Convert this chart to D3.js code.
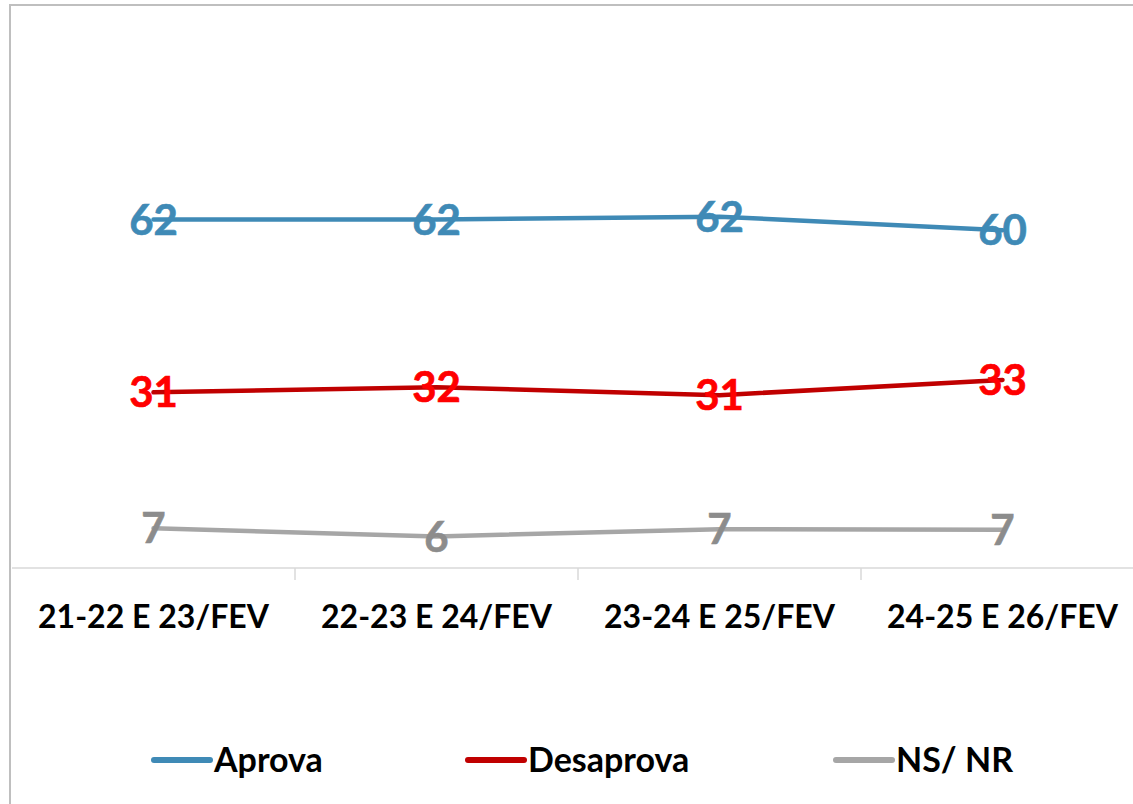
<!DOCTYPE html>
<html><head><meta charset="utf-8">
<script src="https://cdn.jsdelivr.net/npm/d3@7"></script>
<style>html,body{margin:0;padding:0;background:#fff;overflow:hidden}</style>
</head><body>
<svg id="c" width="1133" height="804"></svg>
<script>
const categories = ["21-22 E 23/FEV", "22-23 E 24/FEV", "23-24 E 25/FEV", "24-25 E 26/FEV"];
const aprova = [61.9, 61.9, 62.4, 60.0];
const desaprova = [31.2, 32.1, 30.7, 33.4];
const nsnr = [7.05, 5.6, 6.9, 6.8];
const seriesNames = ["Aprova", "Desaprova", "NS/ NR"];

const series = [
  {name: seriesNames[0], values: aprova, line: "#3F8AB6", label: "#3F8AB6"},
  {name: seriesNames[1], values: desaprova, line: "#C00000", label: "#FF0000"},
  {name: seriesNames[2], values: nsnr, line: "#A6A6A6", label: "#8C8C8C"}
];

const svg = d3.select("#c");
const font = "Lato, 'Open Sans', sans-serif";

// outer border
svg.append("rect").attr("x", 10).attr("y", 5).attr("width", 1300).attr("height", 1000)
  .attr("fill", "none").attr("stroke", "#BFBFBF").attr("stroke-width", 2);

const x = d3.scaleBand().domain(categories).range([12, 1144]).padding(0);
const y = d3.scaleLinear().domain([0, 100]).range([568, 5]);

// x axis
const xAxis = d3.axisBottom(x).tickSize(0).tickPadding(0);
const ax = svg.append("g").attr("transform", "translate(0,568)").call(xAxis);
ax.select(".domain").remove();
ax.append("line").attr("x1", 12).attr("x2", 1133).attr("y1", 0).attr("y2", 0)
  .attr("stroke", "#D9D9D9").attr("stroke-width", 1.5);
ax.selectAll(".tick text").attr("y", 60).attr("dy", 0)
  .attr("font-family", font).attr("font-weight", "bold").attr("font-size", 32).attr("fill", "#000");
// tick marks at band boundaries
const bounds = categories.slice(1).map(c => x(c));
ax.selectAll(".bt").data(bounds).enter().append("line")
  .attr("x1", d => d).attr("x2", d => d).attr("y1", 0).attr("y2", 12)
  .attr("stroke", "#D9D9D9").attr("stroke-width", 1.5);

const cx = c => x(c) + x.bandwidth() / 2;
const line = d3.line().x((d, i) => cx(categories[i])).y(d => y(d));

series.forEach(s => {
  svg.append("path").datum(s.values).attr("d", line)
    .attr("fill", "none").attr("stroke", s.line).attr("stroke-width", 4.5)
    .attr("stroke-linejoin", "round").attr("stroke-linecap", "round");
});
series.forEach(s => {
  svg.append("g").selectAll("text").data(s.values).enter().append("text")
    .attr("x", (d, i) => cx(categories[i]))
    .attr("y", d => y(d))
    .attr("dy", "0.36em")
    .attr("text-anchor", "middle")
    .attr("font-family", font).attr("font-weight", "bold").attr("font-size", 42)
    .attr("fill", s.label)
    .attr("stroke", s.label).attr("stroke-width", 0.6)
    .text(d => Math.round(d));
});

// legend
const legendX = [154, 468, 836];
series.forEach((s, i) => {
  const g = svg.append("g").attr("transform", `translate(${legendX[i]},760)`);
  g.append("line").attr("x1", 0).attr("x2", 56).attr("y1", 0).attr("y2", 0)
    .attr("stroke", s.line).attr("stroke-width", 6).attr("stroke-linecap", "round");
  g.append("text").attr("x", 60).attr("y", 12)
    .attr("font-family", font).attr("font-weight", "bold").attr("font-size", 34)
    .attr("fill", "#000").text(s.name);
});
</script>
</body></html>
